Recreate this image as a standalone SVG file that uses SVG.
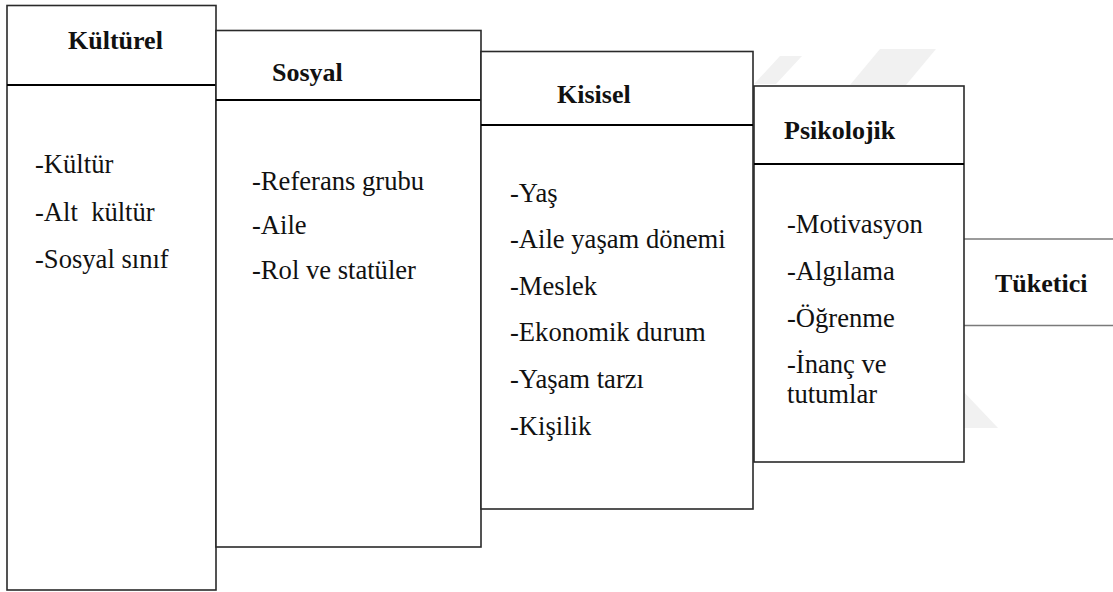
<svg xmlns="http://www.w3.org/2000/svg" width="1113" height="592" viewBox="0 0 1113 592">
  <style>
    .box { fill: #ffffff; stroke: #2a2a2a; stroke-width: 1.6; }
    .div { stroke: #000000; stroke-width: 2; }
    .link { stroke: #7a7a7a; stroke-width: 1.6; }
    .mark { fill: #f1f1f1; }
    .head { font-family: "Liberation Serif", "Times New Roman", serif; font-weight: bold; font-size: 26px; fill: #111; }
    .item { font-family: "Liberation Serif", "Times New Roman", serif; font-size: 26.6px; fill: #111; }
  </style>

  <!-- faint background emblem -->
  <g id="emblem">
    <polygon class="mark" points="780,56 802,56 776,84 754,84"/>
    <polygon class="mark" points="880,49 936,49 906,85 850,85"/>
    <polygon class="mark" points="960,388 998,428 960,428"/>
  </g>

  <!-- connectors -->
  <g id="connectors">
    <line class="link" x1="964" y1="239" x2="1113" y2="239"/>
    <line class="link" x1="964" y1="325.5" x2="1113" y2="325.5"/>
  </g>

  <g id="kulturel">
    <rect class="box" x="7" y="5.5" width="209" height="584.5"/>
    <line class="div" x1="7" y1="85" x2="216" y2="85"/>
    <text class="head" x="68" y="49">Kültürel</text>
    <text class="item" x="35" y="173">-Kültür</text>
    <text class="item" x="35" y="221" xml:space="preserve">-Alt  kültür</text>
    <text class="item" x="35" y="268">-Sosyal sınıf</text>
  </g>

  <g id="sosyal">
    <rect class="box" x="216" y="30.5" width="265" height="516.5"/>
    <line class="div" x1="216" y1="100" x2="481" y2="100"/>
    <text class="head" x="272" y="81">Sosyal</text>
    <text class="item" x="252" y="190">-Referans grubu</text>
    <text class="item" x="252" y="234">-Aile</text>
    <text class="item" x="252" y="279">-Rol ve statüler</text>
  </g>

  <g id="kisisel">
    <rect class="box" x="481" y="51.5" width="272" height="457.5"/>
    <line class="div" x1="481" y1="125" x2="753" y2="125"/>
    <text class="head" x="557" y="103">Kisisel</text>
    <text class="item" x="510" y="202">-Yaş</text>
    <text class="item" x="510" y="248">-Aile yaşam dönemi</text>
    <text class="item" x="510" y="295">-Meslek</text>
    <text class="item" x="510" y="341">-Ekonomik durum</text>
    <text class="item" x="510" y="388">-Yaşam tarzı</text>
    <text class="item" x="510" y="435">-Kişilik</text>
  </g>

  <g id="psikolojik">
    <rect class="box" x="754" y="86" width="210" height="376"/>
    <line class="div" x1="754" y1="164" x2="964" y2="164"/>
    <text class="head" x="784" y="139">Psikolojik</text>
    <text class="item" x="787" y="233">-Motivasyon</text>
    <text class="item" x="787" y="280">-Algılama</text>
    <text class="item" x="787" y="327">-Öğrenme</text>
    <text class="item" x="787" y="373">-İnanç ve</text>
    <text class="item" x="787" y="403">tutumlar</text>
  </g>

  <g id="tuketici">
    <text class="head" x="995" y="292">Tüketici</text>
  </g>
</svg>
